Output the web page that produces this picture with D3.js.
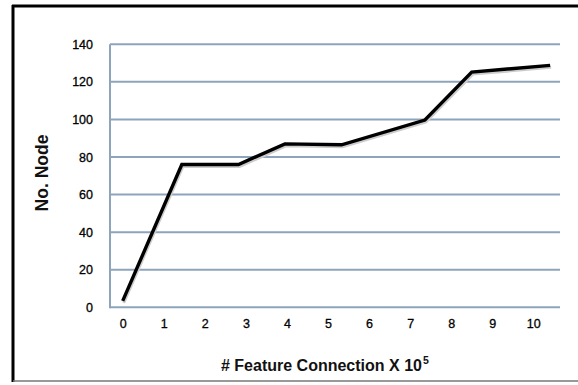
<!DOCTYPE html>
<html><head><meta charset="utf-8">
<script src="https://cdn.jsdelivr.net/npm/d3@7"></script>
<style>body{margin:0;background:#fff;}svg{display:block;}</style>
</head><body>
<script>
const xTicks = [0,1,2,3,4,5,6,7,8,9,10];
const yTicks = [0,20,40,60,80,100,120,140];
const xValues = [0, 1.44, 2.82, 3.95, 5.33, 7.36, 8.5, 10.41];
const nodeValues = [3.4, 76, 76, 87, 86.5, 99.7, 125.2, 128.8];

const W = 578, H = 385;
const FONT = "Liberation Sans, Arial, sans-serif";
const svg = d3.select("body").append("svg").attr("width", W).attr("height", H);

// frame
svg.append("line").attr("x1",13).attr("x2",13).attr("y1",5).attr("y2",382).attr("stroke","#000").attr("stroke-width",3);
svg.append("line").attr("x1",12).attr("x2",W).attr("y1",6).attr("y2",6).attr("stroke","#000").attr("stroke-width",3);
svg.append("line").attr("x1",13).attr("x2",W).attr("y1",381).attr("y2",381).attr("stroke","#777").attr("stroke-width",1.5);

const x = d3.scaleLinear().domain([0,10]).range([122.7,533.3]);
const y = d3.scaleLinear().domain([0,140]).range([307.3,44.3]);
const plotL = 110, plotR = 560;
const gridColor = "#8ea4bd";

// gridlines
svg.append("g").selectAll("line").data(yTicks).join("line")
  .attr("x1",plotL).attr("x2",plotR)
  .attr("y1",d=>y(d)).attr("y2",d=>y(d))
  .attr("stroke",gridColor).attr("stroke-width",2);
// y axis line
svg.append("line").attr("x1",plotL).attr("x2",plotL).attr("y1",y(140)).attr("y2",y(0)+1)
  .attr("stroke",gridColor).attr("stroke-width",2);

// y axis labels
const yAxis = d3.axisLeft(y).tickValues(yTicks).tickSize(0).tickPadding(0);
const gy = svg.append("g").attr("transform","translate(93,0)").call(yAxis);
gy.select(".domain").remove();
gy.selectAll("text").attr("font-family",FONT).attr("font-size",12.5).attr("fill","#000")
  .attr("stroke","#000").attr("stroke-width",0.3);

// x axis labels
const xAxis = d3.axisBottom(x).tickValues(xTicks).tickSize(0).tickPadding(0).tickFormat(d3.format("d"));
const gx = svg.append("g").attr("transform","translate(0,319.5)").call(xAxis);
gx.select(".domain").remove();
gx.selectAll("text").attr("font-family",FONT).attr("font-size",12.5).attr("fill","#000")
  .attr("stroke","#000").attr("stroke-width",0.3);

// line shadow + line
const pts = xValues.map((v,i)=>[v,nodeValues[i]]);
const line = d3.line().x(d=>x(d[0])).y(d=>y(d[1]));
svg.append("path").datum(pts).attr("d",line).attr("fill","none")
  .attr("stroke","#ccc").attr("stroke-width",3).attr("transform","translate(1,2)").attr("stroke-linejoin","miter");
svg.append("path").datum(pts).attr("d",line).attr("fill","none")
  .attr("stroke","#000").attr("stroke-width",3.4).attr("stroke-linejoin","miter");

// axis titles
svg.append("text").attr("transform","translate(48,173) rotate(-90)")
  .attr("text-anchor","middle").attr("font-family",FONT)
  .attr("font-weight","bold").attr("font-size",17.5).attr("fill","#111")
  .text("No. Node");
const main = svg.append("text").attr("x",221).attr("y",371)
  .attr("font-family",FONT)
  .attr("font-weight","bold").attr("font-size",16).attr("fill","#111")
  .text("# Feature Connection X 10");
const mainW = main.node().getComputedTextLength();
svg.append("text").attr("x",221 + mainW + 1).attr("y",364)
  .attr("font-family",FONT)
  .attr("font-weight","bold").attr("font-size",10.5).attr("fill","#111")
  .text("5");
</script>
</body></html>
